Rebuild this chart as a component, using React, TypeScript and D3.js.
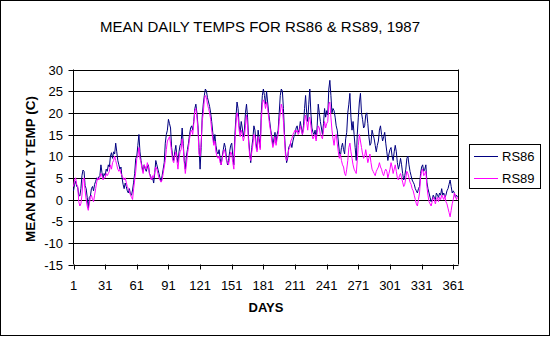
import React from "react";
import * as d3 from "d3";

const title = "MEAN DAILY TEMPS FOR RS86 & RS89, 1987";
const seriesNames = ["RS86", "RS89"];
const seriesColors = ["#000080", "#FF00FF"];
const yTicks = [-15, -10, -5, 0, 5, 10, 15, 20, 25, 30];
const xTicks = [1, 31, 61, 91, 121, 151, 181, 211, 241, 271, 301, 331, 361];

const rs86 = [
  2.0, 3.5, 4.2, 3.0, 2.8, 1.0, 0.8, 2.5, 5.5, 6.8,
  6.5, 3.2, 2.5, 0.5, -2.0, 0.5, 0.8, 2.5, 3.0, 2.0,
  3.5, 4.2, 5.0, 4.5, 5.2, 5.5, 8.0, 6.2, 5.0, 6.0,
  5.5, 7.0, 6.5, 8.0, 7.5, 10.0, 10.8, 9.5, 11.0, 10.5,
  13.0, 11.0, 9.0, 8.0, 7.0, 7.5, 5.0, 3.5, 2.5, 3.8,
  3.0, 2.0, 1.5, 2.5, 1.2, 1.0, 2.2, 4.0, 6.0, 9.5,
  10.0, 12.5, 15.0, 11.0, 9.0, 7.5, 6.5, 8.0, 7.0, 6.5,
  7.5, 8.0, 6.0, 5.5, 4.5, 5.0, 3.8, 6.0, 9.0, 8.0,
  7.0, 6.0, 5.0, 4.2, 5.5, 7.0, 8.5, 13.0, 15.0, 16.0,
  18.5, 17.5, 16.5, 12.0, 10.0, 9.0, 11.0, 12.5, 10.0, 8.5,
  11.0, 12.5, 13.0, 16.5, 13.0, 9.0, 7.0, 10.0, 11.5, 13.0,
  15.0, 16.5, 17.0, 16.0, 18.0, 21.0, 22.0, 20.0, 17.0, 12.0,
  7.0, 12.0, 19.0, 22.0, 24.0, 25.5, 25.0, 23.5, 22.5, 21.5,
  20.0, 18.0, 15.5, 13.0, 15.0, 12.5, 11.0, 10.5, 11.5, 9.5,
  8.0, 10.0, 11.5, 13.0, 12.0, 9.5, 8.0, 9.0, 11.0, 12.5,
  13.0, 10.0, 8.0, 15.0, 19.0, 22.5, 21.0, 17.0, 15.5, 18.0,
  16.5, 14.5, 16.0, 20.0, 22.0, 19.0, 14.0, 11.0, 8.5, 12.0,
  14.0, 17.0, 16.0, 13.0, 11.5, 16.0, 14.0, 12.0, 20.0, 24.0,
  25.5, 24.0, 22.0, 25.0, 22.5, 20.0, 18.0, 16.0, 14.5, 12.5,
  14.0, 15.5, 13.0, 15.0, 16.0, 20.0, 24.0, 25.5, 25.0, 21.0,
  15.0, 11.0, 8.5, 9.5, 12.0, 12.5, 13.0, 12.0, 13.5, 14.5,
  15.0, 16.5, 17.0, 15.5, 16.0, 18.0, 16.5, 15.0, 17.0, 21.0,
  24.0, 20.0, 18.0, 22.0, 25.5, 20.0, 16.5, 15.5, 15.0, 16.0,
  14.0, 17.0, 22.0, 20.0, 18.0, 16.5, 15.0, 17.5, 21.0, 19.0,
  20.5, 19.5, 25.5, 27.5, 24.0, 20.0, 21.0, 20.5, 19.0, 17.0,
  16.0, 13.5, 11.0, 10.0, 12.0, 13.0, 11.5, 10.5, 14.0, 15.5,
  20.0, 22.0, 24.5, 19.0, 16.0, 18.0, 15.0, 12.0, 9.0, 15.0,
  19.0, 22.5, 24.5, 20.0, 18.5, 16.5, 17.0, 19.5, 20.0, 17.5,
  14.5, 12.5, 13.0, 16.0, 15.0, 14.0, 12.5, 11.0, 12.5, 13.5,
  16.0, 17.0, 15.0, 13.5, 14.5, 15.5, 13.0, 11.0, 9.0, 10.5,
  11.5, 12.0, 10.0, 9.0, 11.0, 12.5, 11.0, 8.5, 7.0, 8.0,
  9.5, 8.0, 6.0, 4.5, 5.5, 7.0, 9.5, 10.0, 8.0, 6.5,
  5.5, 4.5, 4.0, 3.5, 2.5, 2.0, 1.5, 2.5, 3.0, 6.0,
  7.5, 8.0, 6.5, 7.0, 8.0, 4.0, 2.5, 1.5, 0.5, -0.5,
  0.0, 1.0, 0.5, 0.0, 1.5, 1.0, 0.5, 1.5, 1.0, 2.5,
  1.0, 1.5, 0.5, 1.0, 2.0, 2.5, 3.5, 4.5, 3.0, 1.5,
  2.0, 1.5, 0.5, 1.0, 0.6,
];

const rs89 = [
  3.0, 4.5, 5.0, 3.5, 3.0, -0.5, -1.5, -1.0, 1.0, 4.5,
  5.0, 2.0, 0.0, -1.5, -2.5, -1.0, 0.5, 1.0, 0.0, -0.5,
  1.0, 2.5, 4.0, 5.0, 4.5, 5.0, 6.0, 5.5, 4.5, 5.0,
  5.0, 6.0, 5.5, 6.0, 6.5, 8.0, 7.0, 8.5, 9.0, 10.0,
  9.0, 8.0, 7.0, 6.5, 7.0, 6.0, 5.5, 5.0, 4.5, 5.0,
  4.0, 3.0, 2.5, 2.0, 1.0, 0.5, 0.0, 2.5, 4.5, 6.5,
  9.5, 10.0, 12.0, 9.5, 8.5, 7.0, 6.0, 8.0, 7.5, 7.0,
  8.5, 7.5, 6.0, 5.0, 4.5, 5.5, 5.0, 6.5, 7.5, 7.0,
  6.0, 5.0, 4.5, 4.0, 4.5, 6.0, 7.5, 9.0, 11.5, 13.5,
  14.0, 14.5, 13.0, 11.0, 9.0, 8.5, 10.0, 11.0, 9.0, 7.0,
  9.5, 11.0, 11.5, 14.0, 12.0, 8.5, 6.0, 8.0, 10.5, 12.0,
  14.0, 15.5, 16.0, 15.0, 17.5, 20.5, 21.0, 19.0, 16.0, 10.5,
  10.0, 13.0, 18.0, 20.0, 23.0, 24.0, 23.5, 22.0, 21.0, 20.0,
  18.5, 16.0, 14.0, 12.5, 13.5, 11.0, 10.0, 9.5, 10.0, 8.5,
  8.0, 9.5, 11.0, 11.5, 10.5, 9.0, 8.5, 8.0, 9.5, 11.0,
  10.5, 8.5, 7.0, 13.0, 17.5, 20.0, 19.0, 16.0, 14.5, 16.0,
  15.0, 13.5, 14.5, 17.0, 19.5, 17.0, 13.0, 10.0, 9.0, 11.0,
  12.5, 15.0, 14.5, 12.0, 11.0, 14.5, 13.0, 11.5, 18.0, 22.0,
  23.0, 22.5, 21.0, 22.5, 21.0, 19.0, 17.0, 15.5, 13.5, 12.0,
  13.0, 14.5, 12.5, 14.0, 15.0, 18.0, 20.0, 22.0, 21.0, 18.0,
  14.0, 10.0, 9.0, 10.0, 11.5, 12.0, 13.5, 14.0, 15.0, 15.5,
  16.0, 15.5, 16.0, 15.0, 15.5, 17.0, 16.0, 15.0, 16.0, 18.0,
  19.5, 18.0, 16.0, 18.5, 19.0, 17.0, 15.0, 14.0, 14.5, 15.0,
  13.5, 15.5, 17.0, 16.5, 15.0, 14.5, 14.0, 16.0, 18.0, 16.5,
  17.5, 18.0, 22.0, 22.5, 19.0, 16.0, 14.0, 12.5, 14.5, 15.0,
  13.0, 11.0, 9.5, 10.5, 9.0, 8.0, 7.5, 6.0, 5.5, 7.0,
  9.0, 12.0, 13.0, 11.0, 9.5, 8.0, 7.0, 6.5, 6.0, 9.0,
  12.5, 15.0, 13.5, 12.0, 10.5, 9.5, 10.0, 11.5, 10.0, 8.5,
  9.5, 10.5, 8.5, 7.0, 6.5, 6.0, 5.5, 6.5, 7.0, 7.5,
  8.5, 7.5, 7.0, 6.0, 5.5, 6.5, 7.0, 6.5, 5.0, 6.0,
  7.0, 8.5, 7.5, 6.0, 7.0, 8.0, 6.5, 5.0, 4.5, 5.5,
  6.0, 5.0, 4.0, 3.0, 3.5, 5.0, 6.5, 6.0, 5.0, 4.0,
  3.5, 2.5, 2.0, 1.0, 0.0, -1.0, -1.5, 0.0, 1.5, 5.0,
  6.5, 7.0, 5.5, 6.0, 6.5, 3.0, 1.0, -0.5, -1.0, -1.5,
  -0.5, 0.5, 0.0, -1.0, 0.0, 0.5, -0.5, 0.5, 0.0, 1.0,
  0.5, 0.0, 1.0, -0.5, -1.0, -2.0, -3.0, -4.0, -2.5, -1.0,
  0.0, 1.5, 1.0, 0.0, 0.5,
];

const W = 551;
const H = 337;
const plot = { left: 73.5, right: 458.5, top: 69.5, bottom: 264.5 };
const FONT = "'Liberation Sans', Arial, sans-serif";

export default function App() {
  const x = d3.scaleLinear().domain([1, 365]).range([plot.left, plot.right - 1]);
  const y = d3.scaleLinear().domain([-15, 30]).range([plot.bottom, plot.top]);
  const line = d3
    .line<number>()
    .x((_, i) => x(i + 1))
    .y((d) => y(d));
  const data = [rs86, rs89];

  return (
    <div style={{ position: "fixed", left: 0, top: 0 }}>
      <svg width={W} height={H} style={{ display: "block" }} fontFamily={FONT}>
        <rect x={0} y={0} width={W} height={H} fill="#fff" />
        <rect x={0.5} y={0.5} width={549} height={335} fill="none" stroke="#000" strokeWidth={1} />
        <text x={260} y={32} textAnchor="middle" fontSize={15} fill="#000">
          {title}
        </text>
        {yTicks.map((t) => (
          <g key={t}>
            <line x1={plot.left} x2={plot.right} y1={Math.round(y(t)) + 0.5} y2={Math.round(y(t)) + 0.5} stroke="#000" />
            <line x1={plot.left - 5} x2={plot.left} y1={Math.round(y(t)) + 0.5} y2={Math.round(y(t)) + 0.5} stroke="#000" />
            <text x={63} y={Math.round(y(t)) + 5} textAnchor="end" fontSize={13} fill="#000">
              {t}
            </text>
          </g>
        ))}
        <line x1={plot.left} x2={plot.left} y1={plot.top} y2={plot.bottom} stroke="#000" />
        <line x1={plot.right} x2={plot.right} y1={plot.top} y2={plot.bottom} stroke="#000" />
        {xTicks.map((t) => (
          <g key={t}>
            <line x1={Math.round(x(t)) + 0.5} x2={Math.round(x(t)) + 0.5} y1={plot.bottom} y2={plot.bottom + 5} stroke="#000" />
            <text x={x(t)} y={290} textAnchor="middle" fontSize={13} fill="#000">
              {t}
            </text>
          </g>
        ))}
        {data.map((d, i) => (
          <path key={i} d={line(d) || ""} fill="none" stroke={seriesColors[i]} strokeWidth={1} />
        ))}
        <text x={266} y={312} textAnchor="middle" fontSize={13} fontWeight="bold" fill="#000">
          DAYS
        </text>
        <text
          transform={`translate(35,169) rotate(-90)`}
          textAnchor="middle"
          fontSize={13.5}
          fontWeight="bold"
          fill="#000"
        >
          MEAN DAILY TEMP (C)
        </text>
        <rect x={469.5} y={144.5} width={71} height={44} fill="#fff" stroke="#000" />
        {seriesNames.map((n, i) => (
          <g key={n}>
            <line x1={474} x2={498} y1={156.5 + i * 22} y2={156.5 + i * 22} stroke={seriesColors[i]} />
            <text x={502} y={161 + i * 22} fontSize={13} fill="#000">
              {n}
            </text>
          </g>
        ))}
      </svg>
    </div>
  );
}
